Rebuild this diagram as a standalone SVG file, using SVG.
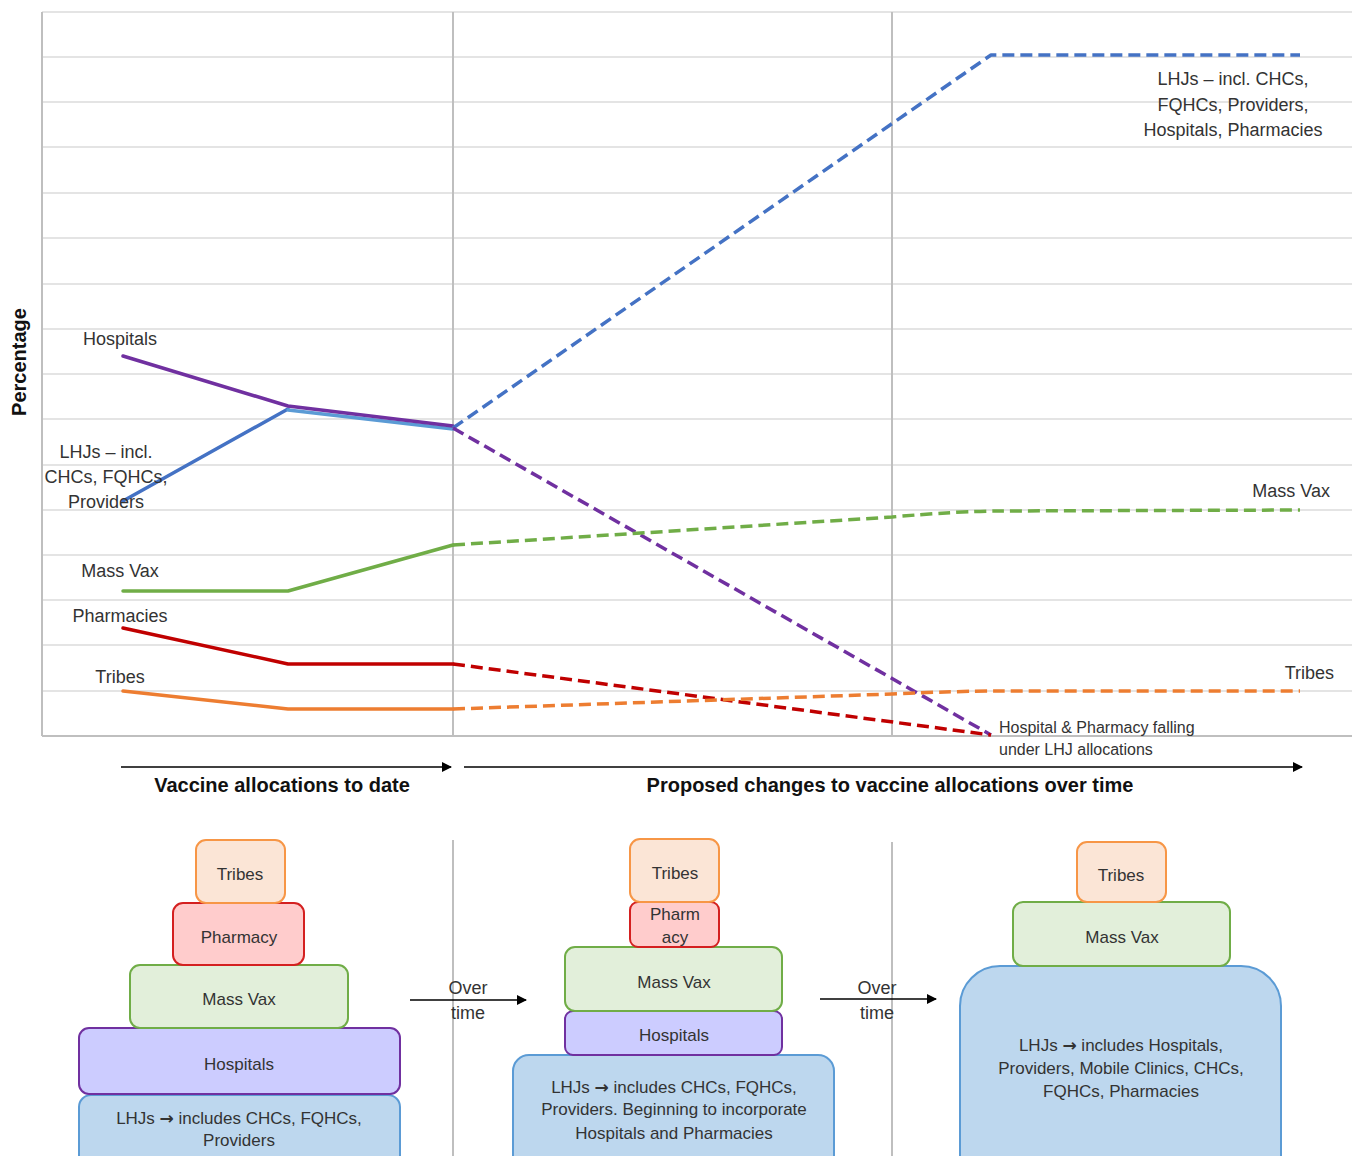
<svg xmlns="http://www.w3.org/2000/svg" width="1361" height="1156" viewBox="0 0 1361 1156">
<style>
text{font-family:"Liberation Sans",Arial,sans-serif;fill:#333;}
.lbl{font-size:18px;}
.sm{font-size:16px;}
.hd{font-size:20px;font-weight:bold;fill:#111;}
.grid{stroke:#E4E4E4;stroke-width:2;}
.div{stroke:#BFBFBF;stroke-width:2;}
.ln{fill:none;stroke-width:3.5;stroke-linejoin:round;stroke-linecap:round;}
.dash{stroke-dasharray:12 6;stroke-linecap:butt;}
.box{stroke-width:2;}
.pt{font-size:17px;text-anchor:middle;}
.arw{font-family:"DejaVu Sans",sans-serif;font-weight:bold;}
</style>
<defs>
<marker id="ah" markerWidth="10" markerHeight="10" refX="9" refY="5" orient="auto" markerUnits="userSpaceOnUse">
<path d="M0,0 L10,5 L0,10 z" fill="#000"/>
</marker>
</defs>
<rect width="1361" height="1156" fill="#fff"/>
<g id="grid">
<line class="grid" x1="42" y1="12" x2="1352" y2="12"/>
<line class="grid" x1="42" y1="57" x2="1352" y2="57"/>
<line class="grid" x1="42" y1="102" x2="1352" y2="102"/>
<line class="grid" x1="42" y1="147" x2="1352" y2="147"/>
<line class="grid" x1="42" y1="193" x2="1352" y2="193"/>
<line class="grid" x1="42" y1="238" x2="1352" y2="238"/>
<line class="grid" x1="42" y1="284" x2="1352" y2="284"/>
<line class="grid" x1="42" y1="329" x2="1352" y2="329"/>
<line class="grid" x1="42" y1="374" x2="1352" y2="374"/>
<line class="grid" x1="42" y1="419" x2="1352" y2="419"/>
<line class="grid" x1="42" y1="465" x2="1352" y2="465"/>
<line class="grid" x1="42" y1="510" x2="1352" y2="510"/>
<line class="grid" x1="42" y1="555" x2="1352" y2="555"/>
<line class="grid" x1="42" y1="600" x2="1352" y2="600"/>
<line class="grid" x1="42" y1="645" x2="1352" y2="645"/>
<line class="grid" x1="42" y1="691" x2="1352" y2="691"/>
<line class="div" x1="42" y1="736" x2="1352" y2="736"/>
<line class="div" x1="42" y1="12" x2="42" y2="736"/>
<line class="div" x1="453" y1="12" x2="453" y2="736"/>
<line class="div" x1="892" y1="12" x2="892" y2="736"/>
<line class="div" x1="453" y1="840" x2="453" y2="1156"/>
<line class="div" x1="892" y1="842" x2="892" y2="1156"/>
</g>
<g id="connectors">
<polyline class="ln" stroke="#4472C4" points="123,501 288,409"/>
<polyline class="ln" stroke="#5B9BD5" points="288,410 453,429"/>
<polyline class="ln" stroke="#7030A0" stroke-width="3" points="123,356 288,406 453,426"/>
<polyline class="ln dash" stroke="#4472C4" points="453,428 991,55 1300,55"/>
<polyline class="ln dash" stroke="#7030A0" points="453,428 991,735"/>
<polyline class="ln" stroke="#70AD47" points="123,591 288,591 453,545"/>
<path class="ln dash" stroke="#70AD47" d="M453,545 L892,517 Q960,511 1000,511 L1300,510"/>
<polyline class="ln" stroke="#C00000" points="123,628 288,664 453,664"/>
<polyline class="ln dash" stroke="#C00000" points="453,664 991,735"/>
<polyline class="ln" stroke="#ED7D31" points="123,691 288,709 453,709"/>
<path class="ln dash" stroke="#ED7D31" d="M453,709 L892,694 Q960,691 1000,691 L1300,691"/>
<line x1="121" y1="767" x2="451" y2="767" stroke="#000" stroke-width="1.5" marker-end="url(#ah)"/>
<line x1="464" y1="767" x2="1302" y2="767" stroke="#000" stroke-width="1.5" marker-end="url(#ah)"/>
<line x1="410" y1="1000" x2="526" y2="1000" stroke="#000" stroke-width="1.5" marker-end="url(#ah)"/>
<line x1="820" y1="999" x2="936" y2="999" stroke="#000" stroke-width="1.5" marker-end="url(#ah)"/>
</g>
<g id="chart-labels">
<text class="hd" transform="translate(26,362) rotate(-90)" text-anchor="middle">Percentage</text>
<text class="lbl" x="120" y="345" text-anchor="middle">Hospitals</text>
<text class="lbl" x="106" y="458" text-anchor="middle">LHJs – incl.</text>
<text class="lbl" x="106" y="483" text-anchor="middle">CHCs, FQHCs,</text>
<text class="lbl" x="106" y="508" text-anchor="middle">Providers</text>
<text class="lbl" x="120" y="577" text-anchor="middle">Mass Vax</text>
<text class="lbl" x="120" y="622" text-anchor="middle">Pharmacies</text>
<text class="lbl" x="120" y="683" text-anchor="middle">Tribes</text>
<text class="lbl" x="1233" y="85" text-anchor="middle">LHJs – incl. CHCs,</text>
<text class="lbl" x="1233" y="111" text-anchor="middle">FQHCs, Providers,</text>
<text class="lbl" x="1233" y="136" text-anchor="middle">Hospitals, Pharmacies</text>
<text class="lbl" x="1330" y="497" text-anchor="end">Mass Vax</text>
<text class="lbl" x="1334" y="679" text-anchor="end">Tribes</text>
<text class="sm" x="999" y="733">Hospital &amp; Pharmacy falling</text>
<text class="sm" x="999" y="755">under LHJ allocations</text>
<text class="hd" x="282" y="792" text-anchor="middle">Vaccine allocations to date</text>
<text class="hd" x="890" y="792" text-anchor="middle">Proposed changes to vaccine allocations over time</text>
<text class="lbl" x="468" y="994" text-anchor="middle">Over</text>
<text class="lbl" x="468" y="1019" text-anchor="middle">time</text>
<text class="lbl" x="877" y="994" text-anchor="middle">Over</text>
<text class="lbl" x="877" y="1019" text-anchor="middle">time</text>
</g>
<g id="p1-lhjs"><rect class="box" x="79" y="1095" width="321" height="80" rx="12" fill="#BDD7EE" stroke="#5B9BD5"/>
<text class="pt" x="239" y="1124">LHJs <tspan class="arw">→</tspan> includes CHCs, FQHCs,</text><text class="pt" x="239" y="1146">Providers</text></g>
<g id="p1-hospitals"><rect class="box" x="79" y="1028" width="321" height="66" rx="10" fill="#CCCCFF" stroke="#7030A0"/>
<text class="pt" x="239" y="1070">Hospitals</text></g>
<g id="p1-massvax"><rect class="box" x="130" y="965" width="218" height="63" rx="10" fill="#E2EFDA" stroke="#70AD47"/>
<text class="pt" x="239" y="1005">Mass Vax</text></g>
<g id="p1-pharmacy"><rect class="box" x="173" y="903" width="131" height="62" rx="10" fill="#FFCCCC" stroke="#D42020"/>
<text class="pt" x="239" y="943">Pharmacy</text></g>
<g id="p1-tribes"><rect class="box" x="196" y="840" width="89" height="63" rx="10" fill="#FBE5D6" stroke="#F79646"/>
<text class="pt" x="240" y="880">Tribes</text></g>
<g id="p2-lhjs"><rect class="box" x="513" y="1055" width="321" height="130" rx="16" fill="#BDD7EE" stroke="#5B9BD5"/>
<text class="pt" x="674" y="1093">LHJs <tspan class="arw">→</tspan> includes CHCs, FQHCs,</text><text class="pt" x="674" y="1115">Providers. Beginning to incorporate</text><text class="pt" x="674" y="1139">Hospitals and Pharmacies</text></g>
<g id="p2-hospitals"><rect class="box" x="565" y="1011" width="217" height="44" rx="8" fill="#CCCCFF" stroke="#7030A0"/>
<text class="pt" x="674" y="1041">Hospitals</text></g>
<g id="p2-massvax"><rect class="box" x="565" y="947" width="217" height="64" rx="10" fill="#E2EFDA" stroke="#70AD47"/>
<text class="pt" x="674" y="988">Mass Vax</text></g>
<g id="p2-pharmacy"><rect class="box" x="630" y="902" width="89" height="45" rx="8" fill="#FFCCCC" stroke="#D42020"/>
<text class="pt" x="675" y="920">Pharm</text><text class="pt" x="675" y="943">acy</text></g>
<g id="p2-tribes"><rect class="box" x="630" y="839" width="89" height="63" rx="10" fill="#FBE5D6" stroke="#F79646"/>
<text class="pt" x="675" y="879">Tribes</text></g>
<g id="p3-lhjs"><rect class="box" x="960" y="966" width="321" height="230" rx="40" fill="#BDD7EE" stroke="#5B9BD5"/>
<text class="pt" x="1121" y="1051">LHJs <tspan class="arw">→</tspan> includes Hospitals,</text><text class="pt" x="1121" y="1074">Providers, Mobile Clinics, CHCs,</text><text class="pt" x="1121" y="1097">FQHCs, Pharmacies</text></g>
<g id="p3-massvax"><rect class="box" x="1013" y="902" width="217" height="64" rx="10" fill="#E2EFDA" stroke="#70AD47"/>
<text class="pt" x="1122" y="943">Mass Vax</text></g>
<g id="p3-tribes"><rect class="box" x="1077" y="842" width="89" height="60" rx="10" fill="#FBE5D6" stroke="#F79646"/>
<text class="pt" x="1121" y="881">Tribes</text></g>
</svg>
